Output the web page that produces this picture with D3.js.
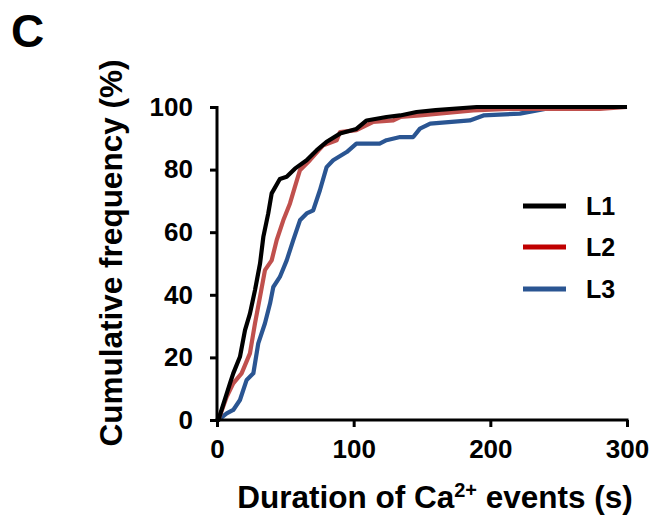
<!DOCTYPE html>
<html>
<head>
<meta charset="utf-8">
<script src="https://cdn.jsdelivr.net/npm/d3@7"></script>
<style>
  body { margin: 0; background: #fff; }
  text { font-family: Arial, "Liberation Sans", sans-serif; font-weight: bold; fill: #000; }
</style>
</head>
<body>
<div id="chart"></div>
<script>
// series (duration s, cumulative %)
var l1X = [0,1,9.5,11.9,16.8,20.5,24.1,27.8,31.5,33.9,37.5,40,46,51,57,65.6,73,80,90,102,109.5,124,134,146,160,190,300];
var l1Y = [0,0,11.7,14.9,20.2,28.7,34,41.5,50,58.5,66,72.4,77,77.7,80.3,83,86.2,88.8,91.5,93,95.7,96.8,97.3,98.4,99,100,100];

var l2X = [0,1,7.1,11.9,18,24.1,27.8,31.5,35.1,40,43.7,48.5,53.4,57,60.7,68,77.8,87.6,90,102,114,129,134,148.5,187.5,213,280,300];
var l2Y = [0,0,7.4,11.7,14.9,21.3,30.9,39.4,47.9,51,57.5,63.8,69.2,74.5,79.8,83,87.8,89.4,92,92.6,95.2,95.7,96.8,97.3,98.9,99.4,99.4,100];

var l3X = [0,1,7.1,11.9,16.8,21.7,26.6,30.2,35.1,38.8,41.2,46,51,55.8,60.7,65.6,70.4,75.3,80.2,85,94.9,102,119,124,134,143.6,148.5,156,185,195,221.6,241,258,300];
var l3Y = [0,0,2.1,3.2,6.4,12.8,14.9,24.5,30.9,37.2,42.5,45.7,51,57.5,63.8,66,67,73.4,80.8,83,85.6,88.3,88.3,89.4,90.4,90.4,93.1,94.7,95.7,97.3,97.9,99.5,100,100];

var seriesNames = ["L1", "L2", "L3"];
var xTicks = [0, 100, 200, 300];
var yTicks = [0, 20, 40, 60, 80, 100];

var lineColors = ["#000000", "#c0504d", "#2a5592"];
var legendColors = ["#000000", "#c00000", "#2a5592"];

var width = 654, height = 520;
var plotLeft = 217, plotRight = 627, plotTop = 107, plotBottom = 420;

var svg = d3.select("#chart").append("svg")
    .attr("width", width)
    .attr("height", height);

var x = d3.scaleLinear().domain([0, 300]).range([plotLeft, plotRight]);
var y = d3.scaleLinear().domain([0, 100]).range([plotBottom, plotTop]);

// panel letter
svg.append("text")
    .attr("x", 11)
    .attr("y", 47)
    .style("font-size", "46px")
    .text("C");

var series = [[l1X, l1Y], [l2X, l2Y], [l3X, l3Y]].map(function (s, i) {
    return { name: seriesNames[i], pts: s[0].map(function (v, j) { return [v, s[1][j]]; }) };
});

var line = d3.line()
    .x(function (d) { return x(d[0]); })
    .y(function (d) { return y(d[1]); });

// draw L3 first so L1 ends up on top
series.slice().reverse().forEach(function (s) {
    var i = seriesNames.indexOf(s.name);
    svg.append("path")
        .attr("d", line(s.pts))
        .attr("fill", "none")
        .attr("stroke", lineColors[i])
        .attr("stroke-width", 4.2)
        .attr("stroke-linejoin", "round");
});

// axes
var xAxis = svg.append("g")
    .attr("transform", "translate(0," + plotBottom + ")")
    .call(d3.axisBottom(x).tickValues(xTicks).tickSize(7).tickPadding(13).tickSizeOuter(0));

var yAxis = svg.append("g")
    .attr("transform", "translate(" + plotLeft + ",0)")
    .call(d3.axisLeft(y).tickValues(yTicks).tickSize(7).tickPadding(17).tickSizeOuter(0));

[xAxis, yAxis].forEach(function (a) {
    a.select(".domain").attr("stroke", "#000").attr("stroke-width", 3);
    a.selectAll(".tick line").attr("stroke", "#000").attr("stroke-width", 3);
    a.selectAll(".tick text")
        .style("font-size", "26px")
        .style("font-family", "Arial, 'Liberation Sans', sans-serif")
        .style("font-weight", "bold")
        .attr("fill", "#000");
});
xAxis.select(".domain").attr("d", "M" + (plotLeft - 1.5) + ",0H" + (plotRight + 1.5));
yAxis.select(".domain").attr("d", "M0," + (plotTop - 1) + "V" + (plotBottom + 1.5));

// axis titles
svg.append("text")
    .attr("transform", "translate(122,253) rotate(-90)")
    .attr("text-anchor", "middle")
    .style("font-size", "31.5px")
    .text("Cumulative frequency (%)");

var xt = svg.append("text")
    .attr("x", 435)
    .attr("y", 508)
    .attr("text-anchor", "middle")
    .style("font-size", "31.5px");
xt.append("tspan").text("Duration of Ca");
xt.append("tspan").attr("dy", -11).style("font-size", "20px").text("2+");
xt.append("tspan").attr("dy", 11).text(" events (s)");

// legend
var legend = svg.selectAll(".legend")
    .data(seriesNames)
    .enter()
    .append("g")
    .attr("class", "legend")
    .attr("transform", function (d, i) { return "translate(523," + [206, 247, 289][i] + ")"; });

legend.append("line")
    .attr("x1", 0).attr("x2", 43)
    .attr("stroke", function (d, i) { return legendColors[i]; })
    .attr("stroke-width", 5);

legend.append("text")
    .attr("x", 63)
    .attr("dy", "0.36em")
    .style("font-size", "25px")
    .text(function (d) { return d; });
</script>
</body>
</html>
